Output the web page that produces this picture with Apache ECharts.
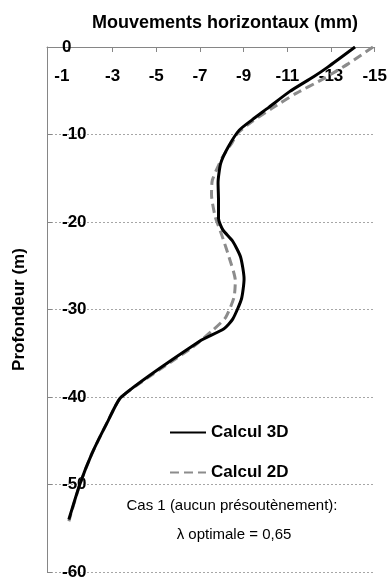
<!DOCTYPE html>
<html>
<head>
<meta charset="utf-8">
<script src="https://cdn.jsdelivr.net/npm/echarts@6/dist/echarts.min.js"></script>
<style>
  html, body { margin: 0; padding: 0; background: #ffffff; }
  #chart { width: 390px; height: 582px; }
</style>
</head>
<body>
<div id="chart"></div>
<script>
// Horizontal displacement (mm) versus depth (m)
const depth3D = [0, -2.3, -3.4, -5.1, -6.9, -8.3, -9.5, -11.4, -13.3, -15.5, -17.5, -19.6, -20.9, -22.2, -24.0, -26.5, -28.8, -31.1, -32.2, -33.6, -40.0, -42.7, -46.5, -50.0, -54.0];
const disp3D  = [-14.1, -12.85, -12.2, -11.1, -10.15, -9.4, -8.8, -8.3, -7.95, -7.83, -7.85, -7.85, -8.05, -8.5, -8.86, -9.02, -8.9, -8.5, -8.1, -7.0, -3.4, -2.8, -2.05, -1.5, -1.0];

const depth2D = [0, -1.9, -3.7, -5.3, -7.0, -8.5, -9.8, -10.9, -12.6, -15.2, -16.9, -19.4, -21.5, -24.0, -26.7, -28.6, -30.9, -32.4, -34.3, -40.0, -42.7, -46.5, -50.0, -54.2];
const disp2D  = [-14.92, -13.8, -12.6, -11.4, -10.3, -9.4, -8.75, -8.48, -8.03, -7.57, -7.53, -7.7, -8.0, -8.33, -8.62, -8.56, -8.18, -7.57, -6.67, -3.4, -2.8, -2.05, -1.5, -1.0];

const xTickValues = [-15, -13, -11, -9, -7, -5, -3, -1];
const seriesNames = ['Calcul 3D', 'Calcul 2D'];
const titleText = 'Mouvements horizontaux (mm)';
const yName = 'Profondeur (m)';
const noteLines = ['Cas 1 (aucun présoutènement):', 'λ optimale = 0,65'];

const FONT = '"Liberation Sans", Arial, sans-serif';
const pairs = (xs, ys) => xs.map((x, i) => [x, ys[i]]);

const chart = echarts.init(document.getElementById('chart'), null, { renderer: 'canvas' });

chart.setOption({
  animation: false,
  backgroundColor: '#ffffff',
  textStyle: { fontFamily: FONT },
  grid: { left: 47, top: 47, right: 14, bottom: 10, containLabel: false },
  xAxis: {
    type: 'value',
    position: 'top',
    min: -15,
    max: 0,
    inverse: true,
    axisLine: { show: true, lineStyle: { color: '#868686', width: 1 } },
    axisTick: { show: true, inside: true, length: 5, customValues: xTickValues, lineStyle: { color: '#868686' } },
    axisLabel: {
      inside: true,
      margin: 21,
      customValues: xTickValues,
      fontFamily: FONT,
      fontSize: 17,
      fontWeight: 'bold',
      color: '#000000',
      formatter: v => (v === -1 ? '{first|' + v + '}' : String(v)),
      rich: { first: { fontFamily: FONT, fontSize: 17, fontWeight: 'bold', color: '#000000', padding: [0, 14, 0, 0] } }
    },
    splitLine: { show: false }
  },
  yAxis: {
    type: 'value',
    min: -60,
    max: 0,
    interval: 10,
    name: yName,
    nameLocation: 'middle',
    nameRotate: 90,
    nameGap: 19,
    nameTextStyle: { fontFamily: FONT, fontSize: 17, fontWeight: 'bold', color: '#000000' },
    axisLine: { show: true, lineStyle: { color: '#868686', width: 1 } },
    axisTick: { show: true, inside: true, length: 5, lineStyle: { color: '#868686' } },
    axisLabel: {
      inside: true,
      margin: 15,
      fontFamily: FONT,
      fontSize: 17,
      fontWeight: 'bold',
      color: '#000000'
    },
    splitLine: { show: true, lineStyle: { color: '#a6a6a6', width: 1, type: [2, 2] } }
  },
  title: {
    text: titleText,
    left: 220,
    top: 9,
    textAlign: 'center',
    textStyle: { fontFamily: FONT, fontSize: 18, fontWeight: 'bold', color: '#000000' }
  },
  legend: {
    orient: 'vertical',
    left: 169,
    top: 424,
    padding: 0,
    itemWidth: 36,
    itemHeight: 14,
    itemGap: 23,
    itemStyle: { opacity: 0 },
    textStyle: { fontFamily: FONT, fontSize: 17, fontWeight: 'bold', color: '#000000' },
    data: seriesNames
  },
  graphic: [
    {
      type: 'text',
      style: {
        x: 232, y: 506,
        text: noteLines[0],
        fontFamily: FONT, fontSize: 15, fill: '#000000',
        align: 'center', verticalAlign: 'middle'
      }
    },
    {
      type: 'text',
      style: {
        x: 234, y: 535,
        text: noteLines[1],
        fontFamily: FONT, fontSize: 15, fill: '#000000',
        align: 'center', verticalAlign: 'middle'
      }
    }
  ],
  series: [
    {
      name: seriesNames[0],
      type: 'line',
      data: pairs(disp3D, depth3D),
      symbol: 'none',
      smooth: 0.2,
      lineStyle: { color: '#000000', width: 3 },
      itemStyle: { color: '#000000' },
      z: 3
    },
    {
      name: seriesNames[1],
      type: 'line',
      data: pairs(disp2D, depth2D),
      symbol: 'none',
      smooth: 0.2,
      lineStyle: { color: '#8c8c8c', width: 3, type: [9, 5] },
      itemStyle: { color: '#8c8c8c' },
      z: 2
    }
  ]
});
</script>
</body>
</html>
